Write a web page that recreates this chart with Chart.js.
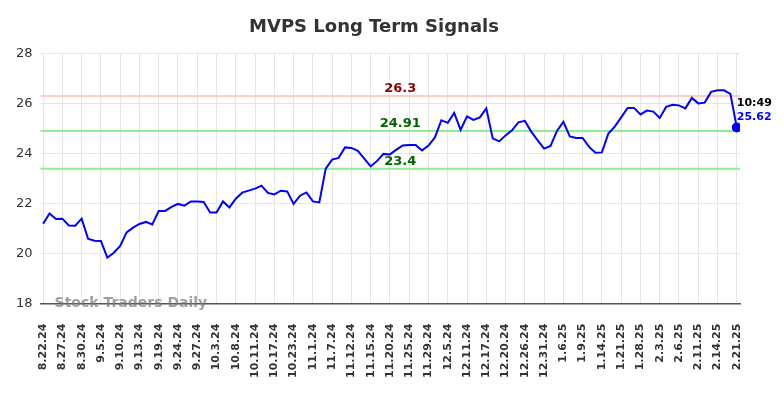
<!DOCTYPE html>
<html>
<head>
<meta charset="utf-8">
<script src="https://cdn.jsdelivr.net/npm/chart.js@4"></script>
<style>
  html, body { margin: 0; padding: 0; background: #fff; }
  #wrap { width: 784px; height: 398px; }
</style>
</head>
<body>
<div id="wrap"><canvas id="chartSignals"></canvas></div>
<script>
// x axis tick labels, one every 3 trading days
const tickLabels = ['8.22.24', '8.27.24', '8.30.24', '9.5.24', '9.10.24', '9.13.24', '9.19.24', '9.24.24', '9.27.24',
    '10.3.24', '10.8.24', '10.11.24', '10.17.24', '10.23.24', '11.1.24', '11.7.24', '11.12.24', '11.15.24',
    '11.20.24', '11.25.24', '11.29.24', '12.5.24', '12.11.24', '12.17.24', '12.20.24', '12.26.24', '12.31.24',
    '1.6.25', '1.9.25', '1.14.25', '1.21.25', '1.28.25', '2.3.25', '2.6.25', '2.11.25', '2.14.25', '2.21.25'];

// daily closes
const prices = [21.2, 21.61, 21.39, 21.4, 21.13, 21.12, 21.4, 20.6, 20.52, 20.51,
    19.84, 20.04, 20.31, 20.85, 21.04, 21.19, 21.27, 21.17, 21.71, 21.71,
    21.87, 21.99, 21.92, 22.09, 22.09, 22.07, 21.65, 21.65, 22.09, 21.85,
    22.2, 22.44, 22.52, 22.6, 22.72, 22.43, 22.37, 22.52, 22.49, 21.99,
    22.32, 22.45, 22.09, 22.05, 23.4, 23.76, 23.83, 24.25, 24.23, 24.11,
    23.8, 23.49, 23.71, 23.99, 23.97, 24.16, 24.33, 24.35, 24.35, 24.13,
    24.32, 24.65, 25.33, 25.23, 25.63, 24.95, 25.49, 25.35, 25.45, 25.81,
    24.61, 24.49, 24.73, 24.93, 25.25, 25.31, 24.88, 24.53, 24.2, 24.31,
    24.91, 25.27, 24.69, 24.63, 24.63, 24.27, 24.04, 24.05, 24.8, 25.08,
    25.45, 25.83, 25.83, 25.57, 25.72, 25.68, 25.43, 25.87, 25.95, 25.93,
    25.81, 26.23, 26.01, 26.04, 26.47, 26.53, 26.53, 26.39, 25.05];

// signal levels
const signalLevels = [26.3, 24.91, 23.4];
const signalColors = ['#ffcccc', '#90ee90', '#90ee90'];
const signalTextColors = ['#8b0000', '#006400', '#006400'];

const lastTime = '10:49';
const lastPrice = '25.62';

const FONT = 'DejaVu Sans';

const signalPlugin = {
    id: 'signals',
    beforeDatasetsDraw(chart) {
        const { ctx, chartArea, scales } = chart;
        ctx.save();
        ctx.lineWidth = 2;
        signalLevels.forEach((lvl, i) => {
            const y = scales.y.getPixelForValue(lvl);
            ctx.strokeStyle = signalColors[i];
            ctx.beginPath();
            ctx.moveTo(chartArea.left, y);
            ctx.lineTo(chartArea.right, y);
            ctx.stroke();
        });
        ctx.restore();
    },
    afterDraw(chart) {
        const { ctx, chartArea, scales } = chart;
        ctx.save();
        // level labels
        ctx.font = 'bold 13px ' + FONT;
        ctx.textAlign = 'center';
        ctx.textBaseline = 'bottom';
        const cx = (chartArea.left + chartArea.right) / 2 + 10;
        signalLevels.forEach((lvl, i) => {
            const y = scales.y.getPixelForValue(lvl);
            ctx.fillStyle = signalTextColors[i];
            ctx.fillText(String(lvl), cx, y - 1);
        });

        // last value labels
        const lastIdx = prices.length - 1;
        const lx = scales.x.getPixelForValue(lastIdx);
        ctx.font = 'bold 11px ' + FONT;
        ctx.textAlign = 'left';
        ctx.textBaseline = 'middle';
        ctx.fillStyle = '#000';
        ctx.fillText(lastTime, lx, 103);
        ctx.fillStyle = '#0000ff';
        ctx.fillText(lastPrice, lx, 117);

        // watermark
        ctx.font = 'bold 14px ' + FONT;
        ctx.fillStyle = 'rgba(120,120,120,0.7)';
        ctx.textAlign = 'left';
        ctx.fillText('Stock Traders Daily', chartArea.left + 14, chartArea.bottom);
        ctx.restore();
    }
};

function initSignalsChart(canvasId) {
    const ctx = document.getElementById(canvasId).getContext('2d');

    new Chart(ctx, {
        type: 'line',
        data: {
            datasets: [{
                data: prices.map((v, i) => ({ x: i, y: v })),
                borderColor: '#0000ff',
                backgroundColor: '#0000ff',
                borderWidth: 2,
                tension: 0,
                pointRadius: (c) => c.dataIndex === prices.length - 1 ? 4 : 0,
                pointHoverRadius: 0,
            }]
        },
        options: {
            responsive: true,
            maintainAspectRatio: false,
            animation: false,
            layout: {
                padding: { left: 8, right: 44, top: 0, bottom: 0 }
            },
            plugins: {
                legend: { display: false },
                tooltip: { enabled: false },
                title: {
                    display: true,
                    text: 'MVPS Long Term Signals',
                    color: '#333',
                    font: { family: FONT, size: 18, weight: 'bold' },
                    padding: { top: 17, bottom: 15 }
                }
            },
            scales: {
                x: {
                    type: 'linear',
                    min: -0.4,
                    max: prices.length - 1 + 0.5,
                    afterBuildTicks: (scale) => {
                        scale.ticks = tickLabels.map((_, k) => ({ value: k * 3 }));
                    },
                    grid: { color: '#e6e6e6', drawTicks: false },
                    border: { color: '#555', width: 1.5 },
                    ticks: {
                        autoSkip: false,
                        minRotation: 90,
                        maxRotation: 90,
                        padding: 20,
                        color: '#333',
                        font: { family: FONT, size: 11, weight: 'bold' },
                        callback: (v) => tickLabels[Math.round(v / 3)]
                    }
                },
                y: {
                    min: 18,
                    max: 28,
                    grid: { color: '#e6e6e6', drawTicks: false },
                    border: { display: false },
                    ticks: {
                        stepSize: 2,
                        padding: 8,
                        color: '#333',
                        font: { family: FONT, size: 13 }
                    }
                }
            }
        },
        plugins: [signalPlugin]
    });
}

document.addEventListener('DOMContentLoaded', function () {
    initSignalsChart('chartSignals');
});
</script>
</body>
</html>
